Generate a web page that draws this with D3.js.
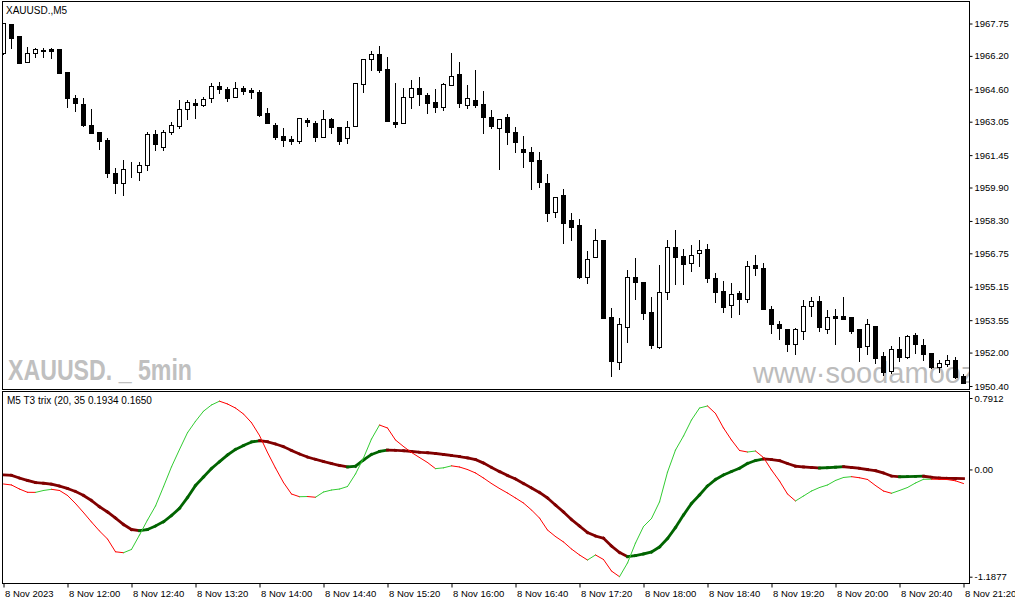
<!DOCTYPE html>
<html>
<head>
<meta charset="utf-8">
<script src="https://cdn.jsdelivr.net/npm/d3@7/dist/d3.min.js"></script>
<style>
body { margin: 0; background: #fff; }
svg text { font-family: 'Liberation Sans', Arial, sans-serif; }
</style>
</head>
<body>
<div id="chart"></div>
<script>
// bar index 0 = 8 Nov 11:20, one bar every 5 minutes, last = 21:20
var timeTickIdx = [0, 8, 16, 24, 32, 40, 48, 56, 64, 72, 80, 88, 96, 104, 112, 120];
var timeLabels = ['8 Nov 2023', '8 Nov 12:00', '8 Nov 12:40', '8 Nov 13:20', '8 Nov 14:00', '8 Nov 14:40',
    '8 Nov 15:20', '8 Nov 16:00', '8 Nov 16:40', '8 Nov 17:20', '8 Nov 18:00', '8 Nov 18:40',
    '8 Nov 19:20', '8 Nov 20:00', '8 Nov 20:40', '8 Nov 21:20'];
var priceTicks = [1967.75, 1966.20, 1964.60, 1963.05, 1961.45, 1959.90, 1958.30, 1956.75, 1955.15, 1953.55, 1952.00, 1950.40];
var indTicks = [0.7912, 0, -1.1877];
var indTickLabels = ['0.7912', '0.00', '-1.1877'];

var opens = [
    1966.32, 1967.73, 1967.15, 1965.89, 1966.35, 1966.45, 1966.53, 1966.53, 1965.44, 1964.18,
    1963.90, 1962.89, 1962.56, 1962.17, 1960.58, 1960.13, 1960.73, 1960.66, 1960.96, 1962.46,
    1961.85, 1962.57, 1962.86, 1963.64, 1963.93, 1963.85, 1964.17, 1964.76, 1964.60, 1964.25,
    1964.65, 1964.57, 1964.47, 1963.45, 1962.88, 1962.37, 1962.22, 1962.14, 1963.13, 1962.97,
    1962.33, 1963.18, 1962.80, 1962.26, 1962.86, 1964.84, 1966.07, 1966.29, 1965.56, 1963.02,
    1962.97, 1964.25, 1964.65, 1964.31, 1963.98, 1963.77, 1964.79, 1965.33, 1963.84, 1964.09,
    1963.90, 1963.26, 1962.73, 1963.26, 1962.54, 1961.73, 1961.59, 1961.20, 1960.10, 1958.71,
    1959.54, 1958.35, 1958.11, 1955.63, 1956.56, 1957.39, 1953.69, 1951.54, 1953.24, 1955.60,
    1955.36, 1953.94, 1952.28, 1954.88, 1957.04, 1956.62, 1956.27, 1956.75, 1956.96, 1955.56,
    1954.95, 1954.26, 1954.84, 1954.55, 1956.18, 1956.03, 1954.09, 1953.35, 1953.13, 1952.40,
    1953.02, 1954.23, 1954.48, 1953.13, 1953.74, 1953.74, 1953.69, 1953.13, 1952.31, 1953.27,
    1951.84, 1951.13, 1952.16, 1951.80, 1952.84, 1952.36, 1951.97, 1951.30, 1951.45, 1951.65,
    1950.88];
var highs = [
    1967.79, 1967.73, 1967.15, 1966.64, 1966.59, 1966.56, 1966.59, 1966.53, 1965.44, 1964.33,
    1964.17, 1963.64, 1962.56, 1962.28, 1960.82, 1961.22, 1961.11, 1961.14, 1962.57, 1962.65,
    1962.65, 1963.02, 1964.09, 1964.09, 1964.15, 1964.22, 1964.89, 1964.96, 1964.70, 1964.96,
    1964.76, 1964.65, 1964.57, 1963.72, 1962.97, 1962.73, 1962.37, 1963.21, 1963.21, 1963.08,
    1963.61, 1963.21, 1962.80, 1963.08, 1964.89, 1966.04, 1966.43, 1966.67, 1966.15, 1964.89,
    1964.65, 1965.05, 1965.18, 1964.41, 1964.62, 1964.89, 1966.35, 1965.91, 1964.81, 1965.52,
    1964.52, 1963.61, 1963.17, 1963.42, 1962.78, 1962.37, 1961.83, 1961.59, 1960.55, 1959.46,
    1959.83, 1958.67, 1958.39, 1956.86, 1957.92, 1957.39, 1954.12, 1953.64, 1955.95, 1956.51,
    1955.36, 1954.65, 1956.19, 1957.39, 1957.87, 1956.97, 1957.15, 1957.39, 1957.20, 1955.79,
    1955.43, 1955.32, 1954.96, 1956.38, 1956.67, 1956.30, 1954.23, 1953.51, 1953.13, 1953.19,
    1954.52, 1954.65, 1954.72, 1954.04, 1954.09, 1954.67, 1953.69, 1953.13, 1953.61, 1953.27,
    1952.04, 1952.31, 1952.73, 1952.84, 1952.92, 1952.64, 1951.97, 1951.65, 1951.88, 1951.80,
    1950.97];
var lows = [
    1966.30, 1966.59, 1965.85, 1965.89, 1966.16, 1966.16, 1966.08, 1965.37, 1963.74, 1963.58,
    1962.84, 1962.50, 1961.73, 1960.42, 1959.62, 1959.54, 1960.39, 1960.26, 1960.74, 1961.70,
    1961.70, 1962.45, 1962.76, 1963.17, 1963.24, 1963.80, 1964.01, 1964.41, 1964.05, 1964.25,
    1964.36, 1964.20, 1963.32, 1962.97, 1962.21, 1961.90, 1961.98, 1962.02, 1962.86, 1962.14,
    1962.33, 1962.50, 1961.97, 1962.02, 1962.86, 1964.49, 1965.52, 1965.44, 1963.10, 1962.81,
    1962.97, 1963.69, 1963.85, 1963.45, 1963.53, 1963.61, 1964.79, 1963.77, 1963.69, 1963.77,
    1962.50, 1962.73, 1960.77, 1961.97, 1961.61, 1960.90, 1959.84, 1959.91, 1958.31, 1958.47,
    1957.23, 1957.39, 1955.58, 1955.32, 1956.56, 1953.67, 1950.88, 1951.20, 1952.52, 1954.56,
    1953.61, 1952.20, 1952.23, 1954.56, 1955.28, 1955.28, 1955.92, 1956.16, 1955.39, 1954.44,
    1953.96, 1953.72, 1953.83, 1954.41, 1955.71, 1954.07, 1952.92, 1952.64, 1952.09, 1951.92,
    1952.64, 1953.76, 1953.05, 1952.92, 1952.41, 1953.59, 1952.92, 1951.61, 1951.92, 1951.49,
    1950.93, 1951.01, 1951.61, 1951.73, 1951.97, 1951.65, 1951.25, 1951.09, 1951.37, 1950.77,
    1950.56];
var closes = [
    1967.79, 1967.07, 1965.85, 1966.35, 1966.52, 1966.46, 1966.45, 1965.40, 1964.20, 1963.96,
    1962.89, 1962.50, 1962.14, 1960.61, 1960.13, 1960.77, 1960.74, 1960.98, 1962.46, 1961.97,
    1962.54, 1962.89, 1963.64, 1963.98, 1963.84, 1964.15, 1964.76, 1964.63, 1964.20, 1964.65,
    1964.52, 1964.47, 1963.37, 1962.97, 1962.33, 1962.17, 1962.14, 1963.21, 1963.05, 1962.33,
    1963.18, 1962.78, 1962.14, 1962.78, 1964.89, 1966.04, 1966.28, 1965.52, 1963.10, 1962.94,
    1964.22, 1964.65, 1964.36, 1963.96, 1963.77, 1964.84, 1965.25, 1963.93, 1964.17, 1963.85,
    1963.26, 1962.86, 1963.17, 1962.54, 1962.06, 1961.61, 1961.18, 1960.18, 1958.67, 1959.46,
    1958.22, 1958.03, 1955.63, 1956.46, 1957.38, 1953.67, 1951.61, 1953.35, 1955.60, 1955.39,
    1953.88, 1952.36, 1954.88, 1957.04, 1956.59, 1956.24, 1956.66, 1956.90, 1955.58, 1954.91,
    1954.17, 1954.79, 1954.55, 1956.16, 1956.03, 1954.07, 1953.35, 1953.16, 1952.40, 1953.13,
    1954.23, 1954.47, 1953.21, 1953.69, 1953.67, 1953.59, 1953.03, 1952.28, 1953.35, 1951.75,
    1951.09, 1952.16, 1951.80, 1952.79, 1952.41, 1951.93, 1951.32, 1951.52, 1951.65, 1950.85,
    1950.56];

// T3 trix: fast (thin) and slow (thick) lines
var trixFast = [
    -0.161, -0.172, -0.217, -0.253, -0.254, -0.233, -0.220, -0.233, -0.288, -0.377,
    -0.477, -0.582, -0.682, -0.770, -0.912, -0.922, -0.886, -0.726, -0.560, -0.405,
    -0.191, 0.029, 0.221, 0.407, 0.533, 0.645, 0.714, 0.756, 0.725, 0.680,
    0.614, 0.518, 0.376, 0.188, 0.016, -0.145, -0.272, -0.302, -0.300, -0.308,
    -0.250, -0.228, -0.217, -0.189, -0.050, 0.127, 0.337, 0.492, 0.459, 0.326,
    0.254, 0.188, 0.132, 0.077, 0.009, 0.018, 0.040, 0.027, -0.001, -0.039,
    -0.095, -0.156, -0.211, -0.261, -0.316, -0.372, -0.449, -0.538, -0.671, -0.743,
    -0.803, -0.881, -0.947, -1.003, -0.947, -0.997, -1.125, -1.1877, -1.036, -0.815,
    -0.632, -0.543, -0.360, -0.030, 0.215, 0.370, 0.548, 0.680, 0.703, 0.620,
    0.459, 0.326, 0.210, 0.193, 0.204, 0.132, -0.006, -0.128, -0.272, -0.349,
    -0.294, -0.239, -0.200, -0.172, -0.122, -0.089, -0.080, -0.092, -0.111, -0.178,
    -0.239, -0.264, -0.233, -0.200, -0.150, -0.109, -0.108, -0.109, -0.112, -0.126,
    -0.156];
var trixSlow = [
    -0.061, -0.065, -0.095, -0.122, -0.145, -0.153, -0.163, -0.183, -0.211, -0.244,
    -0.288, -0.344, -0.413, -0.471, -0.538, -0.610, -0.665, -0.678, -0.665, -0.626,
    -0.579, -0.510, -0.430, -0.311, -0.178, -0.084, 0.011, 0.086, 0.160, 0.221,
    0.265, 0.304, 0.318, 0.307, 0.282, 0.252, 0.210, 0.171, 0.138, 0.112,
    0.088, 0.066, 0.044, 0.028, 0.036, 0.105, 0.166, 0.199, 0.215, 0.212,
    0.207, 0.199, 0.190, 0.185, 0.177, 0.166, 0.154, 0.143, 0.127, 0.110,
    0.071, 0.022, -0.023, -0.067, -0.106, -0.156, -0.205, -0.255, -0.316, -0.394,
    -0.471, -0.554, -0.626, -0.698, -0.737, -0.762, -0.848, -0.920, -0.966, -0.953,
    -0.936, -0.914, -0.859, -0.765, -0.643, -0.504, -0.377, -0.283, -0.183, -0.111,
    -0.061, -0.023, 0.013, 0.066, 0.099, 0.116, 0.110, 0.097, 0.066, 0.036,
    0.027, 0.022, 0.016, 0.019, 0.025, 0.030, 0.022, 0.013, -0.001, -0.014,
    -0.039, -0.073, -0.081, -0.079, -0.077, -0.075, -0.087, -0.095, -0.098, -0.100,
    -0.102];

var W = 1015, H = 605;
var left = 2.5, right = 969.5;
var mainTop = 1.5, mainBottom = 389.5, indTop = 391.5, indBottom = 583.5;
var axisFont = 9.5;

var svg = d3.select('#chart').append('svg')
    .attr('width', W)
    .attr('height', H);
svg.append('rect').attr('width', W).attr('height', H).attr('fill', '#fff');

var x = d3.scaleLinear().domain([0, 120]).range([3.5, 963.5]);
var y = d3.scaleLinear().domain([1950.40, 1967.75]).range([386, 23.5]);
var yi = d3.scaleLinear().domain([-1.1877, 0.7912]).range([576.7, 398]);

var defs = svg.append('defs');
defs.append('clipPath').attr('id', 'clipMain')
    .append('rect').attr('x', 3).attr('y', 2).attr('width', 966).attr('height', 387);
defs.append('clipPath').attr('id', 'clipInd')
    .append('rect').attr('x', 3).attr('y', 392).attr('width', 966).attr('height', 191);

// main window
var main = svg.append('g').attr('clip-path', 'url(#clipMain)');

// watermarks sit behind the candles
main.append('text')
    .attr('x', 8).attr('y', 380)
    .attr('font-size', 30).attr('font-weight', 'bold')
    .attr('fill', '#c0c0c0')
    .attr('textLength', 184).attr('lengthAdjust', 'spacingAndGlyphs')
    .text('XAUUSD. _ 5min');
main.append('text')
    .attr('x', 753).attr('y', 383)
    .attr('font-size', 29)
    .attr('fill', '#bcbcbc')
    .text('www·soodamooz');

var bars = d3.range(opens.length);
var candles = main.append('g').classed('candles', true);
var px = function (v) { return Math.round(y(v)); };

candles.selectAll('line.wick')
    .data(bars)
    .enter()
    .append('line')
    .attr('class', 'wick')
    .attr('x1', function (i) { return x(i); })
    .attr('x2', function (i) { return x(i); })
    .attr('y1', function (i) { return px(highs[i]); })
    .attr('y2', function (i) { return px(lows[i]) + 1; })
    .attr('stroke', '#000')
    .attr('stroke-width', 1);

candles.selectAll('rect.body')
    .data(bars)
    .enter()
    .append('rect')
    .attr('class', 'body')
    .attr('x', function (i) { return x(i) - 2; })
    .attr('y', function (i) { return px(Math.max(opens[i], closes[i])) + 0.5; })
    .attr('width', 4)
    .attr('height', function (i) {
        return Math.max(0, px(Math.min(opens[i], closes[i])) - px(Math.max(opens[i], closes[i])));
    })
    .attr('fill', function (i) { return closes[i] >= opens[i] ? '#fff' : '#000'; })
    .attr('stroke', '#000')
    .attr('stroke-width', 1);

// indicator window
var ind = svg.append('g').attr('clip-path', 'url(#clipInd)');

function drawTrix(values, width, upColor, downColor) {
    var g = ind.append('g');
    g.selectAll('line')
        .data(d3.range(1, values.length))
        .enter()
        .append('line')
        .attr('x1', function (i) { return x(i - 1); })
        .attr('y1', function (i) { return yi(values[i - 1]); })
        .attr('x2', function (i) { return x(i); })
        .attr('y2', function (i) { return yi(values[i]); })
        .attr('stroke', function (i) { return values[i] > values[i - 1] ? upColor : downColor; })
        .attr('stroke-width', width)
        .attr('stroke-linecap', width > 1 ? 'square' : 'round');
}
drawTrix(trixSlow, 2.8, '#006400', '#800000');
drawTrix(trixFast, 1, '#33cc33', '#ff0000');

// frames
svg.append('rect')
    .attr('x', left).attr('y', mainTop)
    .attr('width', right - left).attr('height', mainBottom - mainTop)
    .attr('fill', 'none').attr('stroke', '#000');
svg.append('rect')
    .attr('x', left).attr('y', indTop)
    .attr('width', right - left).attr('height', indBottom - indTop)
    .attr('fill', 'none').attr('stroke', '#000');

// texts in the windows
svg.append('text')
    .attr('x', 6).attr('y', 14)
    .attr('font-size', 10).attr('fill', '#000')
    .text('XAUUSD.,M5');
svg.append('text')
    .attr('x', 7).attr('y', 404)
    .attr('font-size', 10).attr('fill', '#000')
    .text('M5 T3 trix (20, 35 0.1934 0.1650');

// price axis
var priceAxis = svg.append('g')
    .attr('transform', 'translate(' + right + ',0)')
    .call(d3.axisRight(y)
        .tickValues(priceTicks)
        .tickSize(3)
        .tickPadding(2)
        .tickFormat(d3.format('.2f')));
priceAxis.select('.domain').remove();

// indicator axis
var indAxis = svg.append('g')
    .attr('transform', 'translate(' + right + ',0)')
    .call(d3.axisRight(yi)
        .tickValues(indTicks)
        .tickSize(3)
        .tickPadding(2)
        .tickFormat(function (d, i) { return indTickLabels[i]; }));
indAxis.select('.domain').remove();

// time axis
var timeAxis = svg.append('g')
    .attr('transform', 'translate(0,' + indBottom + ')')
    .call(d3.axisBottom(x)
        .tickValues(timeTickIdx)
        .tickSize(4)
        .tickPadding(3)
        .tickFormat(function (d, i) { return timeLabels[i]; }));
timeAxis.select('.domain').remove();
timeAxis.selectAll('text').attr('text-anchor', 'start').attr('dx', 1);

svg.selectAll('.tick text')
    .attr('font-family', "'Liberation Sans', Arial, sans-serif")
    .attr('font-size', axisFont)
    .attr('fill', '#000');
svg.selectAll('.tick line').attr('stroke', '#000');
</script>
</body>
</html>
